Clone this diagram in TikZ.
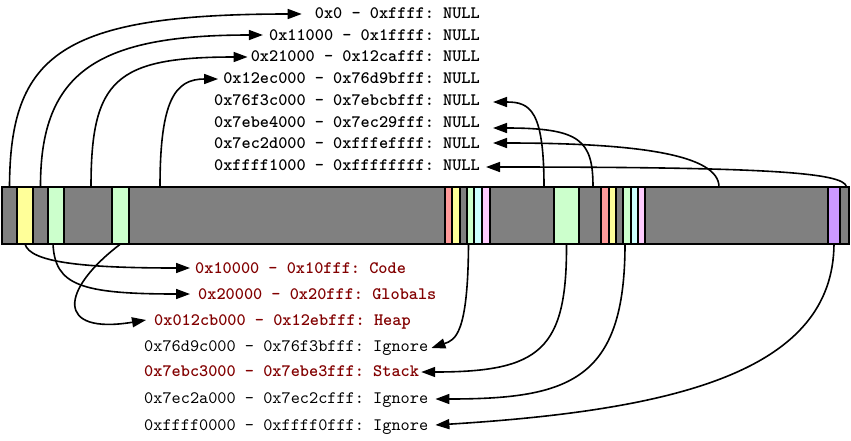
\documentclass[tikz,border=0pt]{standalone}
\usepackage{fontspec}
\setmonofont{lmmono10-regular}[Extension=.otf, BoldFont=lmmonolt10-bold]
\usetikzlibrary{arrows.meta}
\definecolor{sgrey}{HTML}{808080}
\definecolor{syellow}{HTML}{FFFF99}
\definecolor{sgreen}{HTML}{CCFFCC}
\definecolor{sred}{HTML}{FF9999}
\definecolor{scyan}{HTML}{CCFFFF}
\definecolor{spink}{HTML}{FFCCFF}
\definecolor{spurple}{HTML}{CC99FF}
\definecolor{darkred}{RGB}{130,0,0}
\begin{document}
\begin{tikzpicture}[x=1pt,y=-1pt,
  seg/.style={draw=black, line width=1.4pt, inner sep=0pt, outer sep=0pt, anchor=north west, minimum height=57pt},
  nulllbl/.style={font=\ttfamily\bfseries\fontsize{17.45}{20}\selectfont, inner sep=0pt, anchor=base east},
  reglbl/.style={font=\ttfamily\bfseries\fontsize{17.45}{20}\selectfont, text=darkred, inner sep=0pt, anchor=base west},
  ignlbl/.style={font=\ttfamily\fontsize{17.45}{20}\selectfont, inner sep=0pt, anchor=base west},
  conn/.style={line width=1.6pt, -{Triangle[length=14pt,width=10pt]}}]
\useasboundingbox (0,0) rectangle (851,440);

% memory bar segments
\foreach \i/\l/\r/\c in {1/2/17/sgrey, 2/17/33/syellow, 3/33/48/sgrey, 4/48/64/sgreen,
  5/64/112/sgrey, 6/112/129/sgreen, 7/129/445/sgrey, 8/445/452/sred, 9/452/460/syellow,
  10/460/467/sgrey, 11/467/474/sgreen, 12/474/482/scyan, 13/482/490/spink, 14/490/554/sgrey,
  15/554/579/sgreen, 16/579/601/sgrey, 17/601/609/sred, 18/609/616/syellow, 19/616/623/sgrey,
  20/623/631/sgreen, 21/631/638/scyan, 22/638/645/spink, 23/645/828/sgrey, 24/828/840/spurple,
  25/840/849/sgrey}
  \node[seg, fill=\c, minimum width={(\r-\l)*1pt}] (s\i) at (\l,187) {};

% top labels
\node[nulllbl] (T1) at (480,18) {0x0 - 0xffff: NULL};
\node[nulllbl] (T2) at (480,40) {0x11000 - 0x1ffff: NULL};
\node[nulllbl] (T3) at (480,61) {0x21000 - 0x12cafff: NULL};
\node[nulllbl] (T4) at (480,83) {0x12ec000 - 0x76d9bfff: NULL};
\node[nulllbl] (T5) at (480,105) {0x76f3c000 - 0x7ebcbfff: NULL};
\node[nulllbl] (T6) at (480,127) {0x7ebe4000 - 0x7ec29fff: NULL};
\node[nulllbl] (T7) at (480,148) {0x7ec2d000 - 0xfffeffff: NULL};
\node[nulllbl] (T8) at (480,170) {0xffff1000 - 0xffffffff: NULL};

% bottom labels
\node[reglbl] (B1) at (195,273) {0x10000 - 0x10fff: Code};
\node[reglbl] (B2) at (198,299) {0x20000 - 0x20fff: Globals};
\node[reglbl] (B3) at (154,325) {0x012cb000 - 0x12ebfff: Heap};
\node[ignlbl] (B4) at (144,351) {0x76d9c000 - 0x76f3bfff: Ignore};
\node[reglbl] (B5) at (144,376) {0x7ebc3000 - 0x7ebe3fff: Stack};
\node[ignlbl] (B6) at (144,403) {0x7ec2a000 - 0x7ec2cfff: Ignore};
\node[ignlbl] (B7) at (144,430) {0xffff0000 - 0xffff0fff: Ignore};

% connector start points on the bar
\coordinate (c4) at (160,187);
\coordinate (c5) at (544,187);
\coordinate (c7) at (719,187);

% top connectors
\draw[conn] (s1.north) .. controls (10,55) and (60,14) .. ([xshift=-13pt,yshift=4pt]T1.base west);
\draw[conn] (s3.north) .. controls (40,70) and (100,35) .. ([xshift=-6pt,yshift=5pt]T2.base west);
\draw[conn] ([xshift=3pt]s5.north) .. controls (91,80) and (115,57) .. ([xshift=-3pt,yshift=4pt]T3.base west);
\draw[conn] (c4) .. controls (160,100) and (175,79) .. ([xshift=-5pt,yshift=4pt]T4.base west);
\draw[conn] (c5) .. controls (544,110) and (530,102) .. ([xshift=13pt,yshift=3pt]T5.base east);
\draw[conn] ([xshift=3pt]s16.north) .. controls (593,140) and (580,128) .. ([xshift=13pt,yshift=-1pt]T6.base east);
\draw[conn] (c7) .. controls (719,155) and (640,143) .. ([xshift=13pt,yshift=5pt]T7.base east);
\draw[conn] ([xshift=2pt]s25.north) .. controls (845,172) and (760,167) .. ([xshift=6pt,yshift=3pt]T8.base east);

% bottom connectors
\draw[conn] (s2.south) .. controls (30,262) and (80,268) .. ([xshift=-5pt,yshift=5pt]B1.base west);
\draw[conn] ([xshift=-3pt]s4.south) .. controls (55,285) and (80,294) .. ([xshift=-8pt,yshift=5pt]B2.base west);
\draw[conn] (s6.south) .. controls (60,290) and (55,335) .. ([xshift=-8pt,yshift=5pt]B3.base west);
\draw[conn] ([xshift=-2pt]s11.south) .. controls (468,335) and (455,340) .. ([xshift=3pt,yshift=3pt]B4.base east);
\draw[conn] (s15.south) .. controls (567,350) and (540,372) .. ([xshift=2pt,yshift=4pt]B5.base east);
\draw[conn] ([xshift=-2pt]s20.south) .. controls (625,380) and (570,399) .. ([xshift=7pt,yshift=4pt]B6.base east);
\draw[conn] (s24.south) .. controls (833,370) and (680,410) .. ([xshift=7pt,yshift=5pt]B7.base east);
\end{tikzpicture}
\end{document}
